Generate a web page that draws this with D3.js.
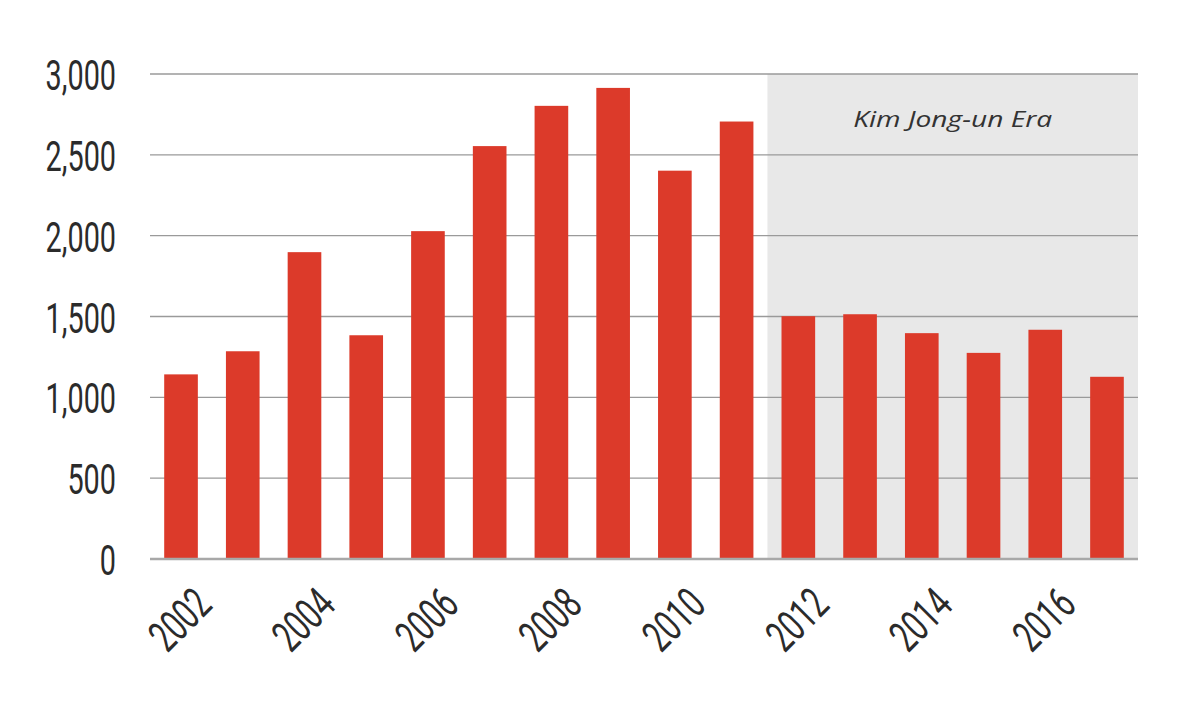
<!DOCTYPE html>
<html>
<head>
<meta charset="utf-8">
<script src="https://cdn.jsdelivr.net/npm/d3@7"></script>
<style>
  body { margin: 0; background: #fff; }
  svg text { fill: #2b2b2b; }
</style>
</head>
<body>
<svg id="chart" width="1200" height="716"></svg>
<script>
// defectors per year
var years = [2002, 2003, 2004, 2005, 2006, 2007, 2008, 2009, 2010, 2011, 2012, 2013, 2014, 2015, 2016, 2017];
var counts = [1142, 1285, 1898, 1384, 2028, 2554, 2803, 2914, 2402, 2706, 1502, 1514, 1397, 1275, 1418, 1127];
var yTicks = [0, 500, 1000, 1500, 2000, 2500, 3000];
var xLabelYears = [2002, 2004, 2006, 2008, 2010, 2012, 2014, 2016];
var eraStart = 2011;
var eraLabel = 'Kim Jong-un Era';

var svg = d3.select('#chart');
var plotLeft = 150, plotRight = 1138, plotTop = 74, plotBottom = 559;
var squeeze = 0.67; // fake a condensed face

var x = d3.scaleBand().domain(years).range([plotLeft, plotRight]).paddingInner(0.455).paddingOuter(0.23);
var y = d3.scaleLinear().domain([0, 3000]).range([plotBottom, plotTop]);

// shaded era band: starts halfway between the 2011 and 2012 bars
var bandX0 = (x(eraStart) + x.bandwidth() + x(eraStart + 1)) / 2;
svg.append('rect')
    .attr('x', bandX0).attr('y', y(3000))
    .attr('width', plotRight - bandX0).attr('height', y(0) - y(3000))
    .attr('fill', '#e8e8e8');

// grid lines
svg.append('g').selectAll('line')
    .data(yTicks.filter(d => d > 0)).enter().append('line')
    .attr('x1', plotLeft).attr('x2', plotRight)
    .attr('y1', d => y(d)).attr('y2', d => y(d))
    .attr('stroke', '#9a9a9a').attr('stroke-width', 1.3);

// bars
svg.append('g').selectAll('rect')
    .data(years).enter().append('rect')
    .attr('x', d => x(d)).attr('width', x.bandwidth())
    .attr('y', (d, i) => y(counts[i]))
    .attr('height', (d, i) => y(0) - y(counts[i]))
    .attr('fill', '#dc3a2a');

// baseline
svg.append('line')
    .attr('x1', plotLeft).attr('x2', plotRight)
    .attr('y1', y(0)).attr('y2', y(0))
    .attr('stroke', '#a8a8a8').attr('stroke-width', 2.5);

// y labels
svg.append('g').selectAll('text')
    .data(yTicks).enter().append('text')
    .attr('text-anchor', 'end')
    .attr('transform', d => 'translate(116,' + (y(d) + 16) + ') scale(' + squeeze + ',1)')
    .style('font-family', 'Roboto, sans-serif')
    .style('font-size', '43px')
    .text(d => d3.format(',')(d));

// x labels, rotated
svg.append('g').selectAll('text')
    .data(xLabelYears).enter().append('text')
    .attr('text-anchor', 'end')
    .attr('transform', d => 'translate(' + (x(d) + x.bandwidth() / 2 + 33) + ',607) rotate(-45) scale(' + squeeze + ',1)')
    .style('font-family', 'Roboto, sans-serif')
    .style('font-size', '44px')
    .text(d => d);

// era label (widened a bit, the original face is broad)
svg.append('text')
    .attr('text-anchor', 'middle')
    .attr('transform', 'translate(' + (bandX0 + plotRight) / 2 + ',127) scale(1.28,1)')
    .style('font-family', '"Open Sans", sans-serif')
    .style('font-style', 'italic')
    .style('font-size', '22px')
    .style('fill', '#333')
    .text(eraLabel);
</script>
</body>
</html>
